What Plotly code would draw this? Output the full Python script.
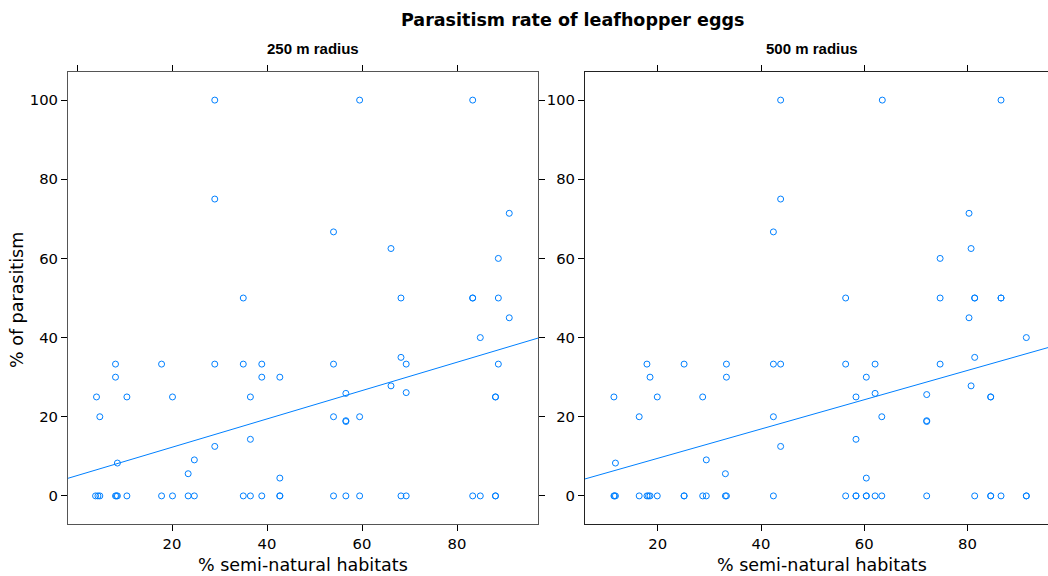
import numpy as np
import plotly.graph_objects as go

# Egg parasitism (%) against % semi-natural habitats around each site,
# for a 250 m and a 500 m buffer radius.
x250 = [29.0, 59.5, 83.3, 29.0, 91.0, 54.0, 66.1, 88.7,
        35.0, 68.2, 83.3, 83.3, 88.7, 91.0, 84.9, 68.2,
        8.1, 17.8, 29.0, 35.0, 38.9, 54.0, 69.3, 88.7,
        8.1, 38.9, 42.7, 66.1, 56.6, 69.3,
        4.1, 10.5, 20.1, 36.5, 88.1, 88.1,
        4.8, 54.0, 59.5, 56.6, 56.6,
        36.5, 29.0, 24.7, 8.5, 23.4, 42.7,
        3.9, 4.4, 4.8, 8.1, 8.3, 8.5, 10.5, 17.8, 20.1, 23.4, 24.7,
        35.0, 36.5, 38.9, 42.7, 42.7, 54.0, 56.6, 59.5, 68.2, 69.3,
        83.3, 84.9, 88.1, 88.1]
y250 = [100, 100, 100, 75, 71.4, 66.7, 62.5, 60,
        50, 50, 50, 50, 50, 45, 40, 35,
        33.3, 33.3, 33.3, 33.3, 33.3, 33.3, 33.3, 33.3,
        30, 30, 30, 27.8, 25.9, 26.1,
        25, 25, 25, 25, 25, 25,
        20, 20, 20, 18.8, 19.0,
        14.3, 12.5, 9.1, 8.3, 5.6, 4.5,
        0, 0, 0, 0, 0, 0, 0, 0, 0, 0, 0,
        0, 0, 0, 0, 0, 0, 0, 0, 0, 0,
        0, 0, 0, 0]

x500 = [43.8, 63.5, 86.5, 43.8, 80.3, 42.4, 80.7, 74.7,
        56.4, 74.7, 81.4, 81.4, 86.5, 86.5, 80.3, 91.4, 81.4,
        17.9, 25.1, 33.3, 42.4, 43.8, 56.4, 62.1, 74.7,
        18.5, 33.3, 60.4, 80.7, 62.1, 72.1,
        11.5, 19.9, 28.7, 58.4, 84.5, 84.5,
        16.4, 42.4, 63.4, 72.1, 72.1,
        58.4, 43.8, 29.4, 11.8, 33.1, 60.4,
        11.5, 11.6, 11.8, 16.4, 17.9, 18.2, 18.5, 19.9, 25.1, 25.1,
        28.7, 29.4, 33.1, 33.3, 42.4, 56.4, 58.4, 58.4, 60.4, 60.4,
        62.1, 63.4, 72.1, 81.4, 84.5, 84.5, 86.5, 91.4, 91.4]
y500 = [100, 100, 100, 75, 71.4, 66.7, 62.5, 60,
        50, 50, 50, 50, 50, 50, 45, 40, 35,
        33.3, 33.3, 33.3, 33.3, 33.3, 33.3, 33.3, 33.3,
        30, 30, 30, 27.8, 25.9, 25.6,
        25, 25, 25, 25, 25, 25,
        20, 20, 20, 18.8, 19.0,
        14.3, 12.5, 9.1, 8.3, 5.6, 4.5,
        0, 0, 0, 0, 0, 0, 0, 0, 0, 0,
        0, 0, 0, 0, 0, 0, 0, 0, 0, 0,
        0, 0, 0, 0, 0, 0, 0, 0, 0]

# fitted linear trend per radius: (intercept, slope)
fit_250 = (5.13, 0.358)
fit_500 = (2.1, 0.370)

panel_titles = ["250 m radius", "500 m radius"]
x_ticks = [20, 40, 60, 80]
top_ticks_250 = [0, 20, 40, 60, 80]
y_ticks = [0, 20, 40, 60, 80, 100]

W, H = 1048, 576
BLUE = "#0080ff"
FONT = "DejaVu Sans"

x_range_250 = [-1.9, 97.05]
x_range_500 = [5.9, 95.6]
y_range = [-7.1, 107.1]

# panel boxes in pixels
y_dom = [1 - 524 / H, 1 - 72 / H]
x_dom_250 = [68 / W, 538 / W]
x_dom_500 = [585 / W, 1.0]


def trend(fit, xr):
    icpt, slope = fit
    xs = np.array(xr)
    return xs, icpt + slope * xs


fig = go.Figure()
for xs, ys, fit, xr, xa, ya in [(x250, y250, fit_250, x_range_250, "x", "y"),
                                (x500, y500, fit_500, x_range_500, "x2", "y2")]:
    fig.add_trace(go.Scatter(
        x=xs, y=ys, xaxis=xa, yaxis=ya, mode="markers",
        marker=dict(symbol="circle-open", size=6, color=BLUE,
                    line=dict(width=1, color=BLUE)),
        hoverinfo="x+y", showlegend=False))
    lx, ly = trend(fit, xr)
    fig.add_trace(go.Scatter(
        x=lx, y=ly, xaxis=xa, yaxis=ya, mode="lines",
        line=dict(color=BLUE, width=1), hoverinfo="skip", showlegend=False))

tickfont = dict(family=FONT, size=14.8, color="#000")
common = dict(showgrid=False, zeroline=False, showline=True, linewidth=1,
              ticks="outside", ticklen=6, tickwidth=1, tickcolor="#000",
              tickfont=tickfont)

fig.update_layout(
    width=W, height=H,
    margin=dict(l=0, r=0, t=0, b=0),
    paper_bgcolor="white", plot_bgcolor="white",
    xaxis=dict(domain=x_dom_250, range=x_range_250, tickvals=x_ticks,
               mirror=True, anchor="y", linecolor="#555", **common),
    xaxis3=dict(overlaying="x", side="top", anchor="y", range=x_range_250,
                tickvals=top_ticks_250, showticklabels=False,
                showgrid=False, zeroline=False, showline=False,
                ticks="outside", ticklen=6, tickwidth=1, tickcolor="#000"),
    yaxis=dict(domain=y_dom, range=y_range, tickvals=y_ticks,
               mirror="ticks", anchor="x", linecolor="#555", **common),
    xaxis2=dict(domain=x_dom_500, range=x_range_500, tickvals=x_ticks,
                mirror="ticks", anchor="y2", linecolor="#222", **common),
    yaxis2=dict(domain=y_dom, range=y_range, tickvals=y_ticks,
                mirror=False, anchor="x2", linecolor="#222", **common),
)

# keep the top tick axis on the left panel drawn
fig.add_trace(go.Scatter(x=[None], y=[None], xaxis="x3", yaxis="y",
                         showlegend=False, hoverinfo="skip"))

ann = []
ann.append(dict(text="<b>Parasitism rate of leafhopper eggs</b>",
                x=572 / W, y=1 - 20 / H, xref="paper", yref="paper",
                xanchor="center", yanchor="middle", showarrow=False,
                font=dict(family=FONT, size=17.5, color="#000")))
for title, cx in zip(panel_titles, [312.5, 812.3]):
    ann.append(dict(text="<b>" + title + "</b>", x=cx / W, y=1 - 49 / H,
                    xref="paper", yref="paper", xanchor="center",
                    yanchor="middle", showarrow=False,
                    font=dict(family="Liberation Sans", size=15, color="#000")))
for cx in [303, 822]:
    ann.append(dict(text="% semi-natural habitats", x=cx / W, y=1 - 565 / H,
                    xref="paper", yref="paper", xanchor="center",
                    yanchor="middle", showarrow=False,
                    font=dict(family=FONT, size=17.5, color="#000")))
ann.append(dict(text="% of parasitism", x=17 / W, y=1 - 300 / H,
                xref="paper", yref="paper", xanchor="center",
                yanchor="middle", textangle=-90, showarrow=False,
                font=dict(family=FONT, size=17.5, color="#000")))
fig.update_layout(annotations=ann)

fig.write_html("out.html")
